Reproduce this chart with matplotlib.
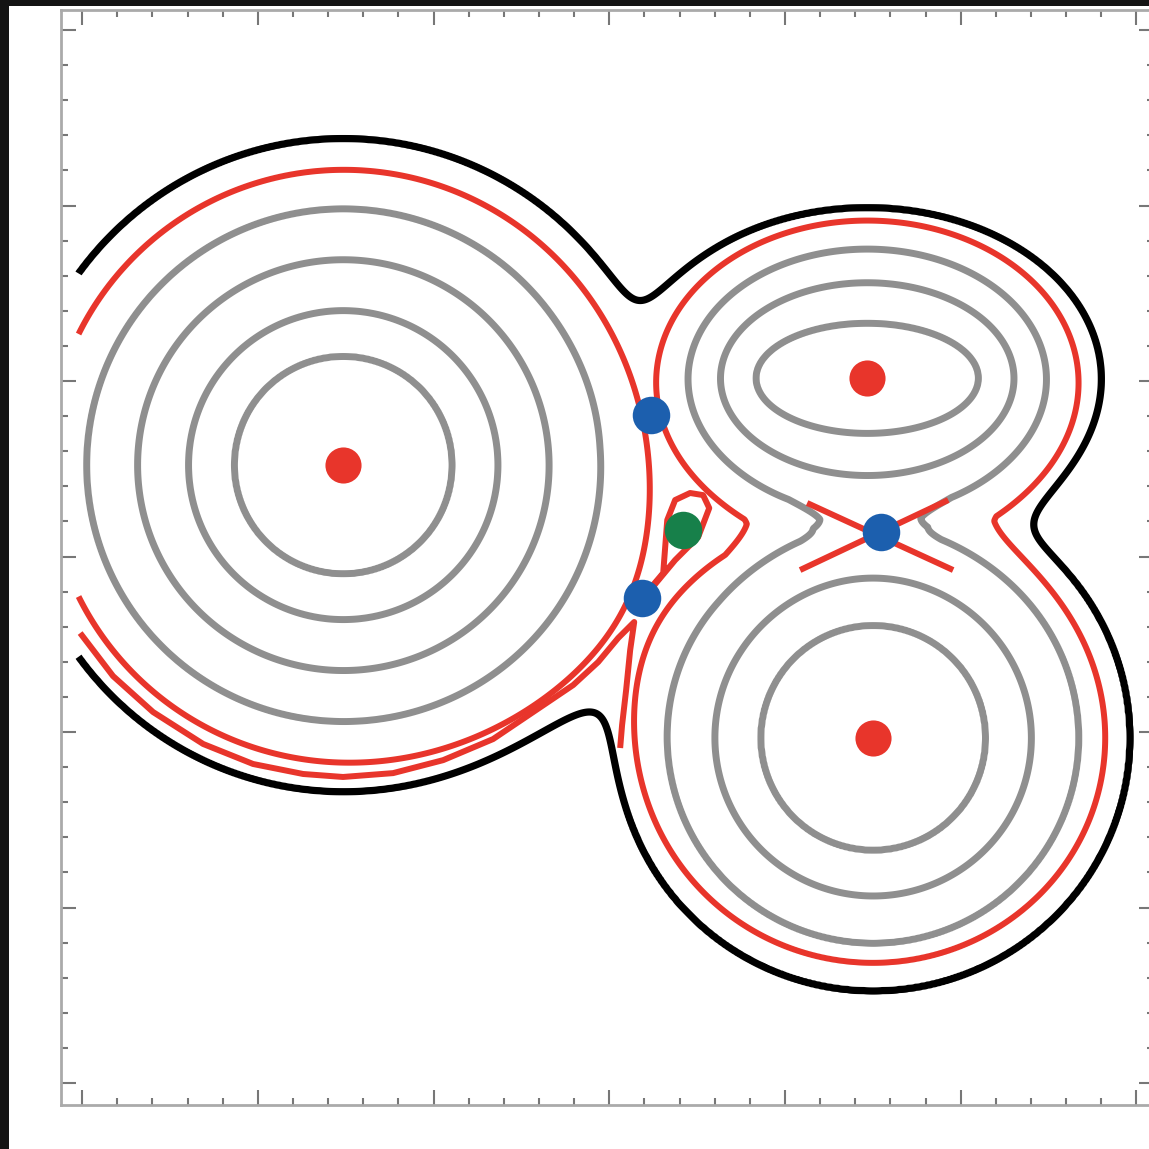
import numpy as np
import matplotlib
matplotlib.use("Agg")
import matplotlib.pyplot as plt
from matplotlib.patches import Rectangle
from matplotlib.ticker import MultipleLocator

# --- basins of the potential (axis units) ---------------------------------
well_x = [1.486, 4.468, 4.502]
well_y = [3.521, 4.017, 1.966]

# level index and the half-axes (along x, along y) of each basin's rings
left_levels = [0, 1, 2, 3, 4, 5, 6]
left_ax = [0.0, 0.62, 0.88, 1.17, 1.46, 1.68, 1.86]
left_ay = [0.0, 0.62, 0.88, 1.17, 1.46, 1.68, 1.86]

upper_levels = [1.2, 2, 3, 4, 5, 6]
upper_ax = [0.0, 0.63, 0.83, 1.01, 1.17, 1.33]
upper_ay = [0.0, 0.31, 0.54, 0.73, 0.89, 0.97]

lower_levels = [1.2, 2, 3, 4, 5, 6]
lower_ax = [0.0, 0.64, 0.90, 1.17, 1.32, 1.46]
lower_ay = [0.0, 0.64, 0.90, 1.17, 1.28, 1.44]

# ring spacing of each basin beyond its outermost drawn level
outer_step = [0.35, 0.20, 0.60]

grey_levels = [1, 2, 3, 4]
red_levels = [5]
black_levels = [6]

# critical points
saddle_x = [3.238, 3.187, 4.548]
saddle_y = [3.806, 2.764, 3.139]
peak_x = [3.421]
peak_y = [3.151]

# closed loop around the peak
loop_x = [3.187, 3.307, 3.330, 3.375, 3.460, 3.534, 3.569, 3.506, 3.375, 3.233, 3.187]
loop_y = [2.764, 2.906, 3.208, 3.322, 3.362, 3.350, 3.276, 3.111, 2.980, 2.809, 2.764]

# second branch below the left basin, folding back under the lower saddle
fold_x = [-0.011, 0.176, 0.404, 0.689, 0.973, 1.258, 1.485, 1.770, 2.055,
          2.339, 2.567, 2.795, 2.937, 3.051, 3.142, 3.119, 3.096, 3.073, 3.062]
fold_y = [2.564, 2.319, 2.114, 1.932, 1.818, 1.761, 1.744, 1.766, 1.840,
          1.960, 2.114, 2.268, 2.399, 2.536, 2.627, 2.467, 2.239, 2.040, 1.909]

# crossing branches at the saddle between the two right basins
cross_a_x = [4.126, 4.957]
cross_a_y = [3.305, 2.923]
cross_b_x = [4.086, 4.929]
cross_b_y = [2.923, 3.322]

GREY = "#8f8f8f"
RED = "#e8352b"
BLUE = "#1c5fae"
GREEN = "#17804a"

# --- field ------------------------------------------------------------------
gx = np.linspace(-0.02, 6.12, 1000)
gy = np.linspace(-0.13, 6.12, 1000)
X, Y = np.meshgrid(gx, gy)


def basin_level(cx, cy, levels, ax_r, ay_r, step):
    lv = np.array(levels + [levels[-1] + 20.0], float)
    ra = np.maximum(np.array(ax_r + [ax_r[-1] + 20 * step]), 1e-6)
    rb = np.maximum(np.array(ay_r + [ay_r[-1] + 20 * step]), 1e-6)
    dx, dy = X - cx, Y - cy
    lo = np.full(X.shape, lv[0])
    hi = np.full(X.shape, lv[-1])
    for _ in range(32):
        mid = 0.5 * (lo + hi)
        a = np.interp(mid, lv, ra)
        b = np.interp(mid, lv, rb)
        inside = (dx / a) ** 2 + (dy / b) ** 2 <= 1.0
        hi = np.where(inside, mid, hi)
        lo = np.where(inside, lo, mid)
    return 0.5 * (lo + hi)


g_left = basin_level(well_x[0], well_y[0], left_levels, left_ax, left_ay, outer_step[0])
g_upper = basin_level(well_x[1], well_y[1], upper_levels, upper_ax, upper_ay, outer_step[1])
g_lower = basin_level(well_x[2], well_y[2], lower_levels, lower_ax, lower_ay, outer_step[2])


def smin(a, b, T):
    m = np.minimum(a, b)
    return m - T * np.log(np.exp(-(a - m) / T) + np.exp(-(b - m) / T))


def pairwise(t_lu, t_ll, t_ul):
    """Each pair of basins joins with its own softness."""
    return np.minimum.reduce([smin(g_left, g_upper, t_lu),
                              smin(g_left, g_lower, t_ll),
                              smin(g_upper, g_lower, t_ul)])


def nested(T):
    return smin(g_left, smin(g_upper, g_lower, T), T)


# --- figure -----------------------------------------------------------------
fig = plt.figure(figsize=(11.49, 11.49), dpi=100)
fig.patch.set_facecolor("#141414")
fig.add_artist(Rectangle((9 / 1149, 0), 1.0, 1 - 6 / 1149,
                         transform=fig.transFigure, facecolor="white",
                         edgecolor="none", zorder=0))

ax = fig.add_axes([61 / 1149, 44 / 1149, 1093 / 1149, 1095 / 1149])
ax.set_facecolor("white")
ax.set_xlim(-0.12, 6.10)
ax.set_ylim(-0.125, 6.114)

ax.contour(X, Y, pairwise(0.9, 0.9, 1.15), levels=grey_levels, colors=GREY, linewidths=5.0)
ax.contour(X, Y, pairwise(0.62, 1.3, 1.3), levels=red_levels, colors=RED, linewidths=4.3)
ax.contour(X, Y, nested(0.45), levels=black_levels, colors="black", linewidths=5.2)

for bx, by in [(loop_x, loop_y), (fold_x, fold_y),
               (cross_a_x, cross_a_y), (cross_b_x, cross_b_y)]:
    ax.plot(bx, by, color=RED, lw=4.3, solid_capstyle="butt",
            solid_joinstyle="round")

ax.plot(well_x, well_y, "o", color=RED, ms=26, mec="none", zorder=5)
ax.plot(saddle_x, saddle_y, "o", color=BLUE, ms=27, mec="none", zorder=5)
ax.plot(peak_x, peak_y, "o", color=GREEN, ms=27, mec="none", zorder=5)

ax.xaxis.set_major_locator(MultipleLocator(1.0))
ax.xaxis.set_minor_locator(MultipleLocator(0.2))
ax.yaxis.set_major_locator(MultipleLocator(1.0))
ax.yaxis.set_minor_locator(MultipleLocator(0.2))
ax.tick_params(which="both", direction="in", top=True, right=True,
               labelbottom=False, labelleft=False, color="#777777", width=1.5)
ax.tick_params(which="major", length=11)
ax.tick_params(which="minor", length=5)
for s in ax.spines.values():
    s.set_color("#aaaaaa")
    s.set_linewidth(2.0)

fig.savefig("out.png", dpi=100, facecolor=fig.get_facecolor())
